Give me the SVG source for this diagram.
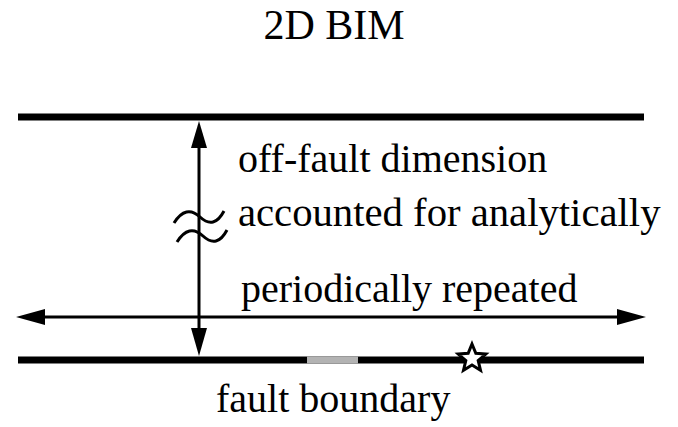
<svg xmlns="http://www.w3.org/2000/svg" width="678" height="427" viewBox="0 0 678 427">
<defs>
<style>
.t{font-family:"Liberation Serif","Times New Roman",serif;font-size:40px;fill:#000}
.bar{stroke:#000;stroke-width:7;fill:none}
.ln{stroke:#000;stroke-width:3;fill:none}
.head{fill:#000;stroke:none}
</style>
</defs>
<rect width="678" height="427" fill="#fff"/>
<g id="title"><text class="t" x="334" y="39" text-anchor="middle" style="font-size:42px">2D BIM</text></g>
<g id="top-boundary"><line class="bar" x1="18" y1="117" x2="644" y2="117"/></g>
<g id="fault-boundary">
<line class="bar" x1="18" y1="360" x2="644" y2="360"/>
<line stroke="#b3b3b3" stroke-width="7" x1="307" y1="360" x2="358" y2="360"/>
<polygon points="472,344 475.82,353.24 485.79,354.02 478.18,360.51 480.52,370.23 472,365 463.48,370.23 465.82,360.51 458.21,354.02 468.18,353.24" fill="#fff" stroke="#000" stroke-width="3"/>
<text class="t" x="216" y="412">fault boundary</text>
</g>
<g id="connectors">
<line class="ln" x1="199" y1="140" x2="199" y2="336"/>
<polygon class="head" points="199,121 191,148 207,148"/>
<polygon class="head" points="199,356 191,328 207,328"/>
<path class="ln" d="M174,223 Q186,204 200,217 T224,211"/>
<path class="ln" d="M177,242 Q189,223 203,236 T227,230"/>
<line class="ln" x1="35" y1="317" x2="625" y2="317"/>
<polygon class="head" points="16,317 45,309 45,325"/>
<polygon class="head" points="646,317 617,309 617,325"/>
</g>
<g id="labels">
<text class="t" x="238" y="172">off-fault dimension</text>
<text class="t" x="238" y="226" style="font-size:40.7px">accounted for analytically</text>
<text class="t" x="241" y="302">periodically repeated</text>
</g>
</svg>
